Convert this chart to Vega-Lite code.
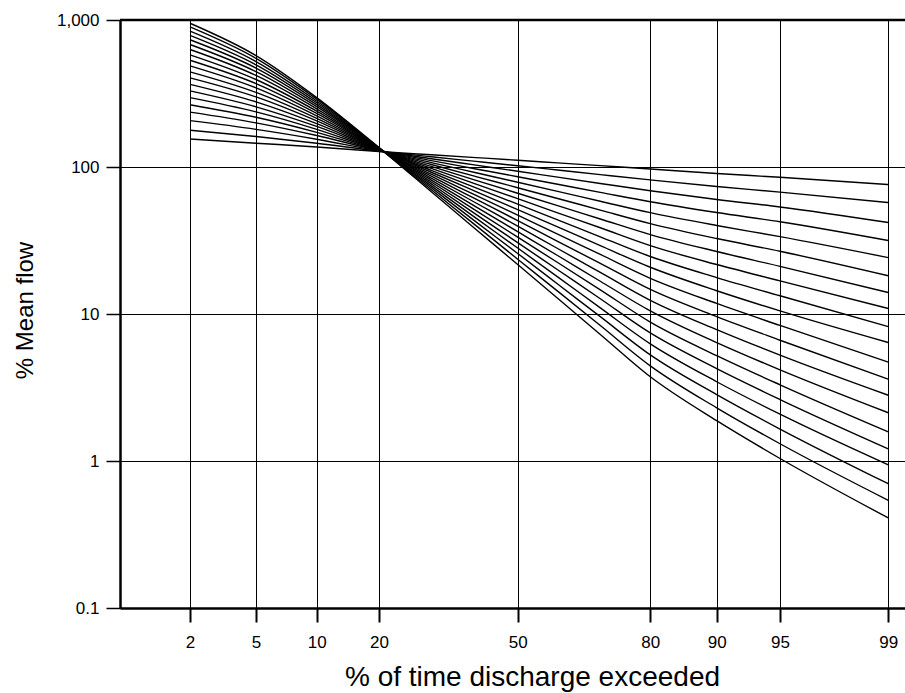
{
  "$schema": "https://vega.github.io/schema/vega-lite/v6.json",
  "width": 785,
  "height": 588,
  "autosize": "none",
  "padding": {"left": 120, "top": 20, "right": 0, "bottom": 85},
  "background": "white",
  "config": {"view": {"stroke": null}, "font": "Liberation Sans"},
  "layer": [
    {
      "data": {"values": [
        {"c":1,"p":2,"q":155.1},{"c":1,"p":5,"q":145.2},{"c":1,"p":10,"q":136.9},{"c":1,"p":20,"q":127.4},{"c":1,"p":30,"q":121.1},{"c":1,"p":40,"q":115.9},{"c":1,"p":50,"q":111.2},{"c":1,"p":60,"q":106.7},{"c":1,"p":70,"q":102.1},{"c":1,"p":80,"q":97.0},{"c":1,"p":90,"q":90.3},{"c":1,"p":95,"q":85.1},{"c":1,"p":99,"q":75.9},
        {"c":2,"p":2,"q":178.1},{"c":2,"p":5,"q":161.2},{"c":2,"p":10,"q":145.2},{"c":2,"p":20,"q":128.0},{"c":2,"p":30,"q":117.4},{"c":2,"p":40,"q":109.2},{"c":2,"p":50,"q":102.0},{"c":2,"p":60,"q":95.4},{"c":2,"p":70,"q":88.8},{"c":2,"p":80,"q":81.7},{"c":2,"p":90,"q":73.6},{"c":2,"p":95,"q":67.5},{"c":2,"p":99,"q":57.3},
        {"c":3,"p":2,"q":206.6},{"c":3,"p":5,"q":180.4},{"c":3,"p":10,"q":154.6},{"c":3,"p":20,"q":128.7},{"c":3,"p":30,"q":113.9},{"c":3,"p":40,"q":102.9},{"c":3,"p":50,"q":93.6},{"c":3,"p":60,"q":85.3},{"c":3,"p":70,"q":77.3},{"c":3,"p":80,"q":68.9},{"c":3,"p":90,"q":60.1},{"c":3,"p":95,"q":53.5},{"c":3,"p":99,"q":41.9},
        {"c":4,"p":2,"q":236.3},{"c":4,"p":5,"q":199.7},{"c":4,"p":10,"q":163.8},{"c":4,"p":20,"q":129.3},{"c":4,"p":30,"q":110.5},{"c":4,"p":40,"q":97.0},{"c":4,"p":50,"q":85.9},{"c":4,"p":60,"q":76.3},{"c":4,"p":70,"q":67.2},{"c":4,"p":80,"q":58.0},{"c":4,"p":90,"q":49.0},{"c":4,"p":95,"q":42.4},{"c":4,"p":99,"q":31.6},
        {"c":5,"p":2,"q":265.4},{"c":5,"p":5,"q":217.9},{"c":5,"p":10,"q":172.1},{"c":5,"p":20,"q":129.8},{"c":5,"p":30,"q":107.2},{"c":5,"p":40,"q":91.4},{"c":5,"p":50,"q":78.8},{"c":5,"p":60,"q":68.3},{"c":5,"p":70,"q":58.5},{"c":5,"p":80,"q":48.9},{"c":5,"p":90,"q":40.0},{"c":5,"p":95,"q":33.6},{"c":5,"p":99,"q":24.2},
        {"c":6,"p":2,"q":296.4},{"c":6,"p":5,"q":237.1},{"c":6,"p":10,"q":180.4},{"c":6,"p":20,"q":130.3},{"c":6,"p":30,"q":104.0},{"c":6,"p":40,"q":86.1},{"c":6,"p":50,"q":72.3},{"c":6,"p":60,"q":61.1},{"c":6,"p":70,"q":50.9},{"c":6,"p":80,"q":41.2},{"c":6,"p":90,"q":32.6},{"c":6,"p":95,"q":26.7},{"c":6,"p":99,"q":18.2},
        {"c":7,"p":2,"q":329.3},{"c":7,"p":5,"q":256.6},{"c":7,"p":10,"q":188.7},{"c":7,"p":20,"q":130.8},{"c":7,"p":30,"q":100.9},{"c":7,"p":40,"q":81.2},{"c":7,"p":50,"q":66.3},{"c":7,"p":60,"q":54.6},{"c":7,"p":70,"q":44.3},{"c":7,"p":80,"q":34.7},{"c":7,"p":90,"q":26.6},{"c":7,"p":95,"q":21.1},{"c":7,"p":99,"q":14.0},
        {"c":8,"p":2,"q":365.1},{"c":8,"p":5,"q":277.5},{"c":8,"p":10,"q":197.2},{"c":8,"p":20,"q":131.2},{"c":8,"p":30,"q":97.8},{"c":8,"p":40,"q":76.5},{"c":8,"p":50,"q":60.9},{"c":8,"p":60,"q":48.8},{"c":8,"p":70,"q":38.6},{"c":8,"p":80,"q":29.2},{"c":8,"p":90,"q":21.7},{"c":8,"p":95,"q":16.8},{"c":8,"p":99,"q":10.9},
        {"c":9,"p":2,"q":404.1},{"c":9,"p":5,"q":299.7},{"c":9,"p":10,"q":205.9},{"c":9,"p":20,"q":131.7},{"c":9,"p":30,"q":94.9},{"c":9,"p":40,"q":72.1},{"c":9,"p":50,"q":55.9},{"c":9,"p":60,"q":43.7},{"c":9,"p":70,"q":33.5},{"c":9,"p":80,"q":24.6},{"c":9,"p":90,"q":17.7},{"c":9,"p":95,"q":13.3},{"c":9,"p":99,"q":8.2},
        {"c":10,"p":2,"q":444.1},{"c":10,"p":5,"q":321.8},{"c":10,"p":10,"q":214.3},{"c":10,"p":20,"q":132.1},{"c":10,"p":30,"q":92.1},{"c":10,"p":40,"q":68.0},{"c":10,"p":50,"q":51.3},{"c":10,"p":60,"q":39.1},{"c":10,"p":70,"q":29.2},{"c":10,"p":80,"q":20.8},{"c":10,"p":90,"q":14.4},{"c":10,"p":95,"q":10.5},{"c":10,"p":99,"q":6.4},
        {"c":11,"p":2,"q":488.0},{"c":11,"p":5,"q":345.6},{"c":11,"p":10,"q":223.1},{"c":11,"p":20,"q":132.5},{"c":11,"p":30,"q":89.3},{"c":11,"p":40,"q":64.1},{"c":11,"p":50,"q":47.0},{"c":11,"p":60,"q":34.9},{"c":11,"p":70,"q":25.4},{"c":11,"p":80,"q":17.5},{"c":11,"p":90,"q":11.8},{"c":11,"p":95,"q":8.36},{"c":11,"p":99,"q":4.7},
        {"c":12,"p":2,"q":532.3},{"c":12,"p":5,"q":369.2},{"c":12,"p":10,"q":231.5},{"c":12,"p":20,"q":132.9},{"c":12,"p":30,"q":86.6},{"c":12,"p":40,"q":60.4},{"c":12,"p":50,"q":43.2},{"c":12,"p":60,"q":31.2},{"c":12,"p":70,"q":22.1},{"c":12,"p":80,"q":14.7},{"c":12,"p":90,"q":9.6},{"c":12,"p":95,"q":6.63},{"c":12,"p":99,"q":3.6},
        {"c":13,"p":2,"q":579.8},{"c":13,"p":5,"q":393.8},{"c":13,"p":10,"q":240.1},{"c":13,"p":20,"q":133.3},{"c":13,"p":30,"q":84.0},{"c":13,"p":40,"q":56.9},{"c":13,"p":50,"q":39.6},{"c":13,"p":60,"q":27.9},{"c":13,"p":70,"q":19.2},{"c":13,"p":80,"q":12.4},{"c":13,"p":90,"q":7.83},{"c":13,"p":95,"q":5.25},{"c":13,"p":99,"q":2.8},
        {"c":14,"p":2,"q":630.0},{"c":14,"p":5,"q":419.4},{"c":14,"p":10,"q":248.8},{"c":14,"p":20,"q":133.6},{"c":14,"p":30,"q":81.5},{"c":14,"p":40,"q":53.6},{"c":14,"p":50,"q":36.3},{"c":14,"p":60,"q":25.0},{"c":14,"p":70,"q":16.7},{"c":14,"p":80,"q":10.5},{"c":14,"p":90,"q":6.39},{"c":14,"p":95,"q":4.17},{"c":14,"p":99,"q":2.13},
        {"c":15,"p":2,"q":681.2},{"c":15,"p":5,"q":445.0},{"c":15,"p":10,"q":257.2},{"c":15,"p":20,"q":134.0},{"c":15,"p":30,"q":79.1},{"c":15,"p":40,"q":50.5},{"c":15,"p":50,"q":33.3},{"c":15,"p":60,"q":22.4},{"c":15,"p":70,"q":14.6},{"c":15,"p":80,"q":8.81},{"c":15,"p":90,"q":5.21},{"c":15,"p":95,"q":3.3},{"c":15,"p":99,"q":1.58},
        {"c":16,"p":2,"q":733.6},{"c":16,"p":5,"q":470.8},{"c":16,"p":10,"q":265.5},{"c":16,"p":20,"q":134.3},{"c":16,"p":30,"q":76.7},{"c":16,"p":40,"q":47.6},{"c":16,"p":50,"q":30.6},{"c":16,"p":60,"q":20.0},{"c":16,"p":70,"q":12.7},{"c":16,"p":80,"q":7.43},{"c":16,"p":90,"q":4.25},{"c":16,"p":95,"q":2.62},{"c":16,"p":99,"q":1.21},
        {"c":17,"p":2,"q":786.0},{"c":17,"p":5,"q":495.9},{"c":17,"p":10,"q":273.5},{"c":17,"p":20,"q":134.6},{"c":17,"p":30,"q":74.4},{"c":17,"p":40,"q":44.9},{"c":17,"p":50,"q":28.1},{"c":17,"p":60,"q":17.9},{"c":17,"p":70,"q":11.0},{"c":17,"p":80,"q":6.26},{"c":17,"p":90,"q":3.46},{"c":17,"p":95,"q":2.08},{"c":17,"p":99,"q":0.94},
        {"c":18,"p":2,"q":840.5},{"c":18,"p":5,"q":521.9},{"c":18,"p":10,"q":281.4},{"c":18,"p":20,"q":135.0},{"c":18,"p":30,"q":72.2},{"c":18,"p":40,"q":42.3},{"c":18,"p":50,"q":25.8},{"c":18,"p":60,"q":16.0},{"c":18,"p":70,"q":9.59},{"c":18,"p":80,"q":5.27},{"c":18,"p":90,"q":2.83},{"c":18,"p":95,"q":1.65},{"c":18,"p":99,"q":0.70},
        {"c":19,"p":2,"q":897.0},{"c":19,"p":5,"q":548.2},{"c":19,"p":10,"q":289.3},{"c":19,"p":20,"q":135.2},{"c":19,"p":30,"q":70.0},{"c":19,"p":40,"q":39.9},{"c":19,"p":50,"q":23.6},{"c":19,"p":60,"q":14.3},{"c":19,"p":70,"q":8.35},{"c":19,"p":80,"q":4.44},{"c":19,"p":90,"q":2.3},{"c":19,"p":95,"q":1.31},{"c":19,"p":99,"q":0.54},
        {"c":20,"p":2,"q":950.6},{"c":20,"p":5,"q":572.8},{"c":20,"p":10,"q":296.5},{"c":20,"p":20,"q":135.5},{"c":20,"p":30,"q":67.9},{"c":20,"p":40,"q":37.6},{"c":20,"p":50,"q":21.7},{"c":20,"p":60,"q":12.8},{"c":20,"p":70,"q":7.26},{"c":20,"p":80,"q":3.74},{"c":20,"p":90,"q":1.88},{"c":20,"p":95,"q":1.04},{"c":20,"p":99,"q":0.41}
      ]},
      "mark": {"type": "line", "color": "black", "strokeWidth": 1.4, "interpolate": "monotone"},
      "encoding": {
        "x": {
          "field": "p", "type": "quantitative",
          "scale": {
            "domain": [0.64, 2, 5, 10, 20, 30, 40, 50, 60, 70, 80, 90, 95, 99, 99.25],
            "range": [0, 70, 136, 196.7, 259, 311.3, 356, 397.7, 437.6, 480.3, 530.3, 596.7, 660, 768.3, 785],
            "nice": false, "zero": false
          },
          "axis": {
            "values": [2, 5, 10, 20, 50, 80, 90, 95, 99],
            "title": "% of time discharge exceeded",
            "grid": true, "gridColor": "black", "gridWidth": 1, "gridOpacity": 1,
            "domainColor": "black", "domainWidth": 2.5,
            "tickColor": "black", "tickWidth": 2, "tickSize": 14,
            "labelFontSize": 17, "labelColor": "black", "labelPadding": 12,
            "labelFont": "Liberation Sans", "labelFlush": false, "labelOverlap": false,
            "titleFont": "Liberation Sans", "titleFontSize": 28, "titleFontWeight": "normal", "titleColor": "black",
            "titleX": 412, "titleY": 69, "titleAlign": "center", "titleBaseline": "middle"
          }
        },
        "y": {
          "field": "q", "type": "quantitative",
          "scale": {"type": "log", "domain": [0.1, 1000], "nice": false},
          "axis": {
            "values": [0.1, 1, 10, 100, 1000],
            "format": ",~g",
            "title": "% Mean flow",
            "grid": true, "gridColor": "black", "gridWidth": 1, "gridOpacity": 1,
            "domainColor": "black", "domainWidth": 2.5,
            "tickColor": "black", "tickWidth": 1.5, "tickSize": 14,
            "labelFontSize": 17, "labelColor": "black", "labelPadding": 7,
            "labelFont": "Liberation Sans", "labelFlush": false,
            "titleFont": "Liberation Sans", "titleFontSize": 24, "titleFontWeight": "normal", "titleColor": "black",
            "titleX": -95, "titleY": 290, "titleAngle": 270, "titleAlign": "center", "titleBaseline": "middle"
          }
        },
        "detail": {"field": "c", "type": "nominal"}
      }
    },
    {
      "data": {"values": [{"top": 1000}]},
      "mark": {"type": "rule", "color": "black", "strokeWidth": 2.5},
      "encoding": {"y": {"field": "top", "type": "quantitative"}}
    }
  ]
}
